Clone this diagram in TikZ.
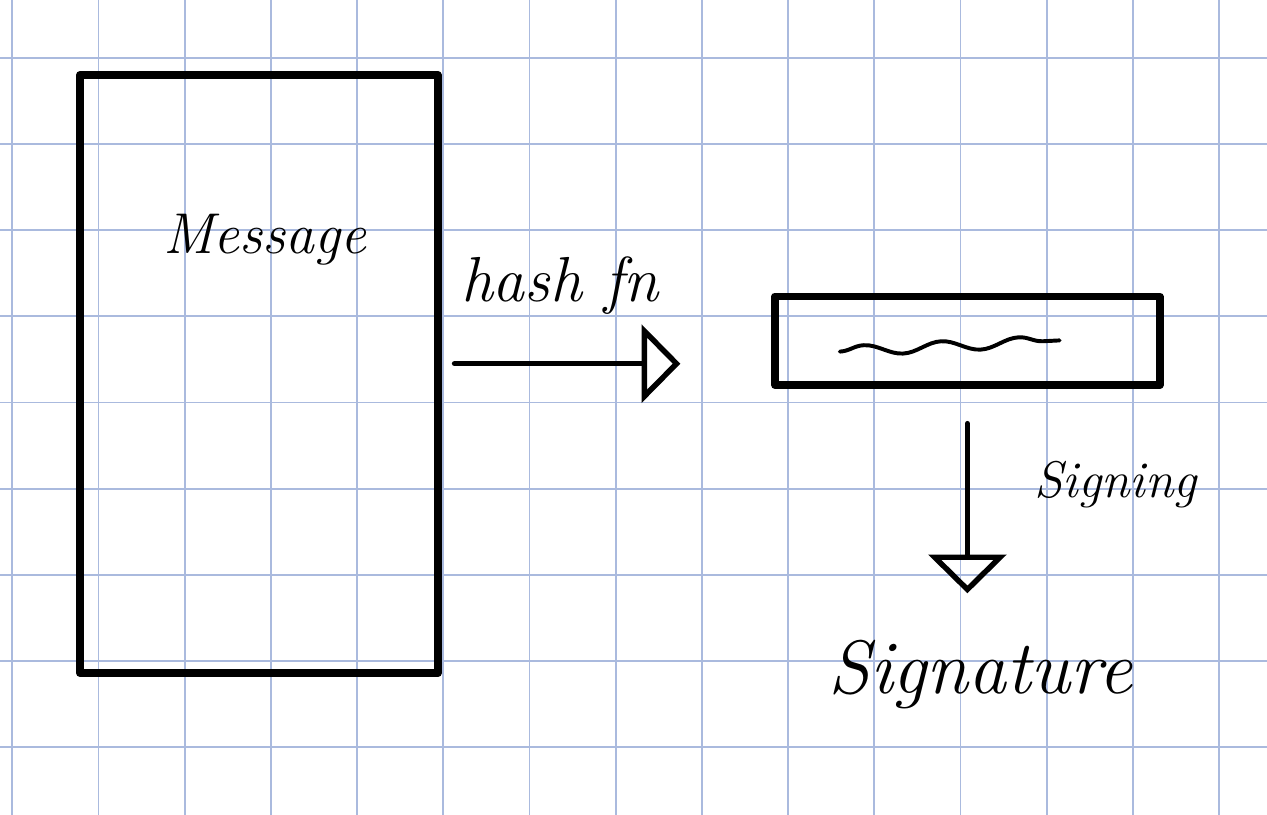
\documentclass[tikz,border=0pt]{standalone}
\usepackage{color}
\usepackage{amsmath, amssymb}
\usetikzlibrary{arrows.meta,decorations.pathmorphing}

\definecolor{paper}{RGB}{170,186,222}

\begin{document}
\begin{tikzpicture}[
        box/.style={draw,line width=2.6pt,line join=round,inner sep=0pt},
        flow/.style={line width=1.8pt,line cap=round,-{Triangle[open,length=4.5mm,width=9mm,line width=1.8pt]}},
        wave/.style={line width=1.3pt,line cap=round,decorate,decoration={snake,amplitude=0.6mm,segment length=9mm}},
        hand/.style={font=\itshape,inner sep=2pt}]
        \useasboundingbox (-0.143,-8.785) rectangle (14.556,0.669);
        \draw [paper,line width=0.6pt] (-0.143,-8.785) grid (14.556,0.669);

        \node [box,minimum width=4.15cm,minimum height=6.94cm] (msg) at (2.86,-3.67) {};
        \node [hand,font=\itshape\fontsize{19}{22}\selectfont] (msglabel) at (2.93,-2.11) {Message};

        \node [box,minimum width=4.46cm,minimum height=1.03cm] (hashbox) at (11.08,-3.285) {};
        \draw [wave] (9.6,-3.41) -- (12.15,-3.28);

        \coordinate (hashend) at (7.75,-3.55);
        \draw [flow,shorten <=1.5mm] (msg.east |- hashend) -- (hashend);
        \node [hand,font=\itshape\fontsize{21}{24}\selectfont] (hashlabel) at (6.35,-2.64) {hash fn};

        \node [hand,font=\itshape\fontsize{25}{29}\selectfont] (sig) at (11.23,-7.16) {Signature};
        \draw [flow,shorten <=4mm,shorten >=4.7mm] (hashbox.south) -- (hashbox.south |- sig.north);
        \node [hand,font=\itshape\fontsize{17}{20}\selectfont] (signlabel) at (12.8,-4.95) {Signing};
      \end{tikzpicture}
\end{document}
